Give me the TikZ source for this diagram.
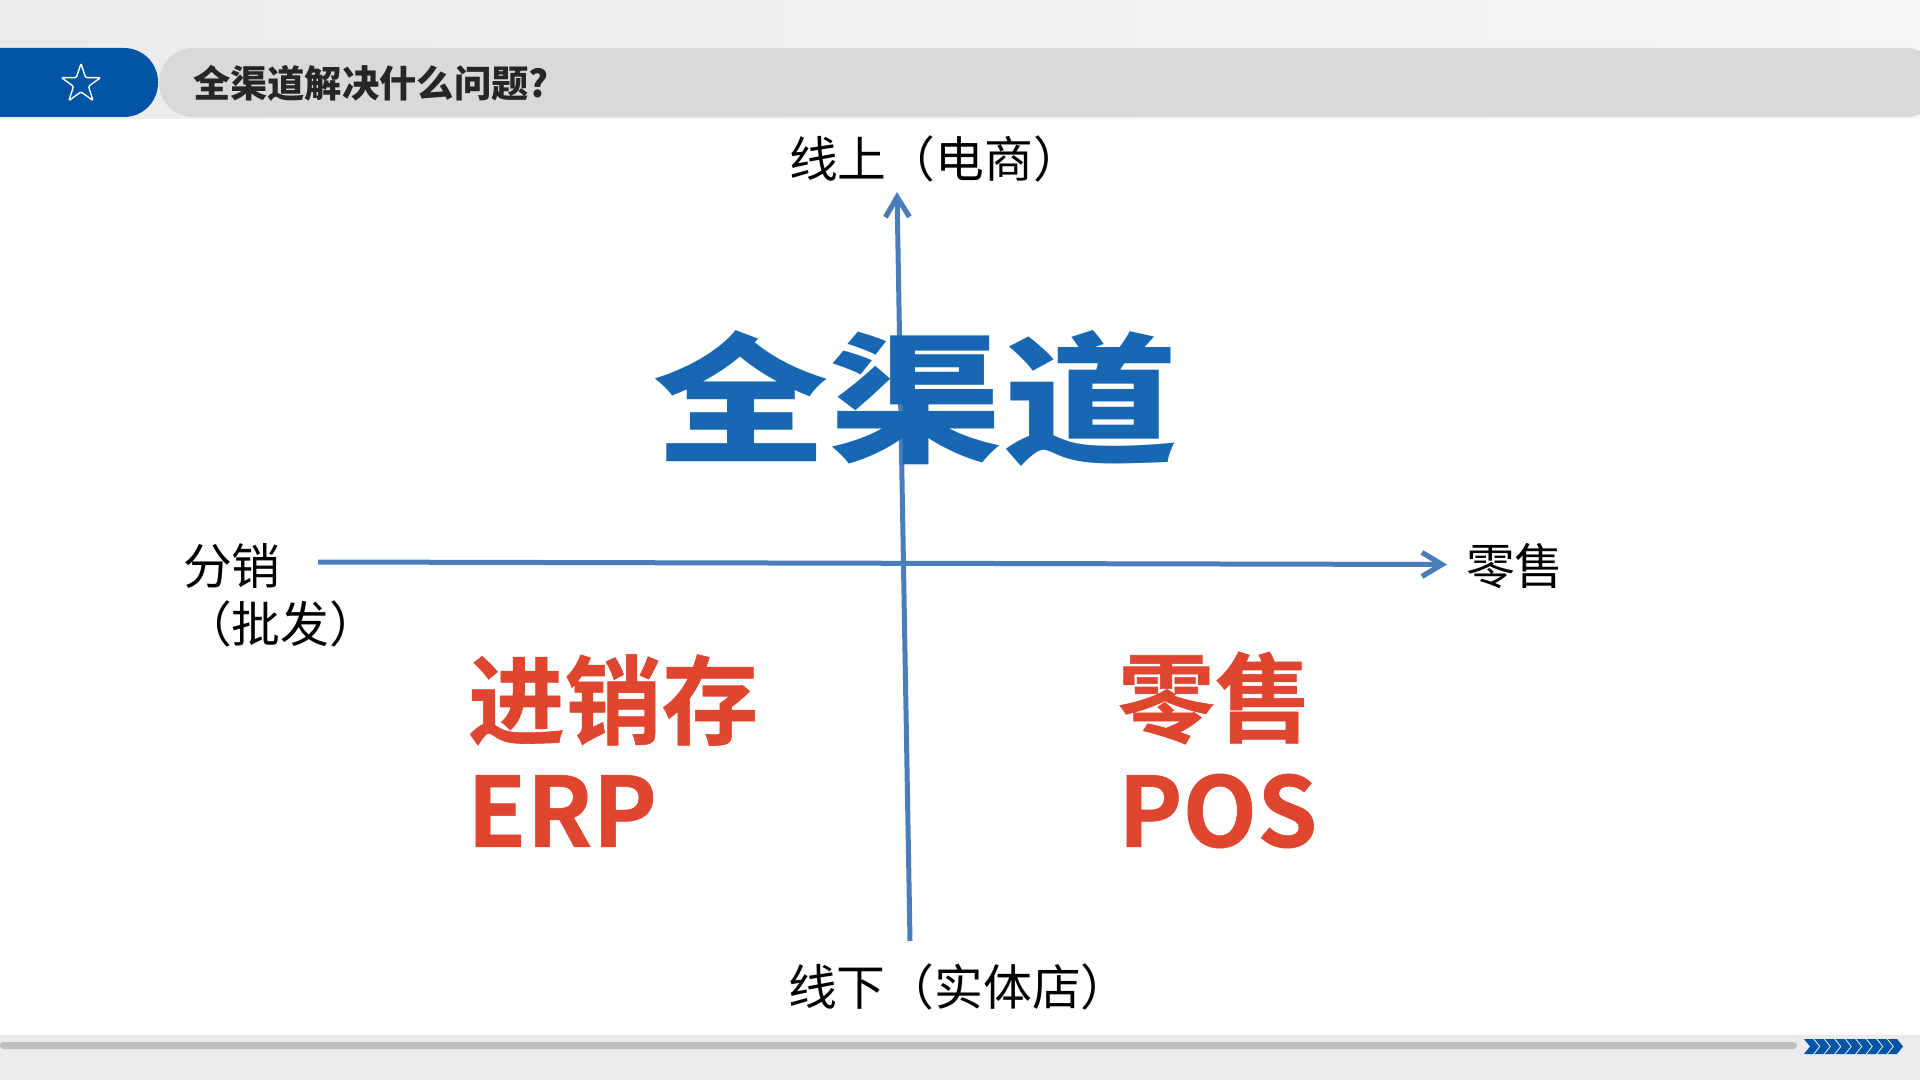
\documentclass[tikz,border=0pt]{standalone}
\usepackage{fontspec}
\setmainfont{Noto Sans CJK SC}[BoldFont={Noto Sans CJK SC Bold}]
\newfontfamily\cjkblack{Noto Sans CJK SC Black}
\newfontfamily\redheavy{Noto Sans CJK SC Bold}[FakeBold=0.6]
\usetikzlibrary{arrows.meta,shapes.geometric}
\definecolor{brandblue}{HTML}{0054A6}
\definecolor{logoblue}{HTML}{1767B3}
\definecolor{axisblue}{HTML}{4A7EBB}
\definecolor{hotred}{HTML}{E0452F}
\definecolor{pillgrey}{HTML}{D9D9D9}
\definecolor{bandgrey}{HTML}{EBEBEB}
\definecolor{bandlight}{HTML}{F6F6F6}
\definecolor{bargrey}{HTML}{BFBFBF}
\definecolor{inkdark}{HTML}{262626}
\tikzset{
  every node/.style={inner sep=0pt,outer sep=0pt},
  axisline/.style={draw=axisblue,line width=2.5pt,-{Straight Barb[length=10pt,width=12pt,line width=2.6pt]}},
  axistext/.style={font=\fontsize{24.4}{29}\selectfont,text=black,anchor=west,align=left},
  bigtext/.style={font=\fontsize{48.4}{48}\redheavy\selectfont,text=hotred,anchor=west},
}
\begin{document}
\begin{tikzpicture}[x=0.5pt,y=-0.5pt]
\useasboundingbox (0,0) rectangle (1920,1080);
\fill[white] (0,0) rectangle (1920,1080);
% header and footer bands
\shade[left color=bandgrey,right color=bandlight] (0,0) rectangle (1920,119);
\fill[bandgrey] (0,1035) rectangle (1920,1080);
% header shapes
\fill[pillgrey,rounded corners=17pt] (159,48) rectangle (1940,117);
\fill[brandblue,rounded corners=17pt] (-60,48) rectangle (158,117);
\node[star,star points=5,star point ratio=2.6,minimum size=20.5pt,draw=white,line width=0.7pt,rounded corners=0.6pt] (icon) at (81,84) {};
\node[font=\fontsize{18.65}{20}\cjkblack\selectfont,text=inkdark,anchor=west] (title) at (193,83) {全渠道解决什么问题?};
% footer bar and chevrons
\fill[bargrey,rounded corners=1.7pt] (0,1042) rectangle (1797,1049);
\foreach \i in {0,...,8}{
  \fill[brandblue,xshift=\i*5.25pt] (1804,1039) -- (1813,1039) -- (1819,1046.5) -- (1813,1054) -- (1804,1054) -- (1810,1046.5) -- cycle;
}
% axis ends
\coordinate (vs) at (910,941);
\coordinate (ve) at (897,192);
\coordinate (hs) at (318,562);
\coordinate (he) at (1447,564.5);
\draw[axisline] (vs) -- (ve);
\draw[axisline] (hs) -- (he);
% logo
\node[font=\fontsize{70}{70}\cjkblack\selectfont,text=logoblue] (logo) at (916,398) {\scalebox{1.25}[1]{全渠道}};
% axis labels
\node[axistext] (top) at (789,159) {线上（电商）};
\node[axistext] (bottom) at (788,987) {线下（实体店）};
\node[axistext] (right) at (1466,566) {零售};
\node[axistext] (left) at (183,595) {分销\\（批发）};
% quadrant labels
\node[bigtext] (q1a) at (468,700) {进销存};
\node[bigtext] (q1b) at (467,811) {ERP};
\node[bigtext] (q2a) at (1118,698) {零售};
\node[bigtext] (q2b) at (1118,811) {POS};
\end{tikzpicture}
\end{document}
